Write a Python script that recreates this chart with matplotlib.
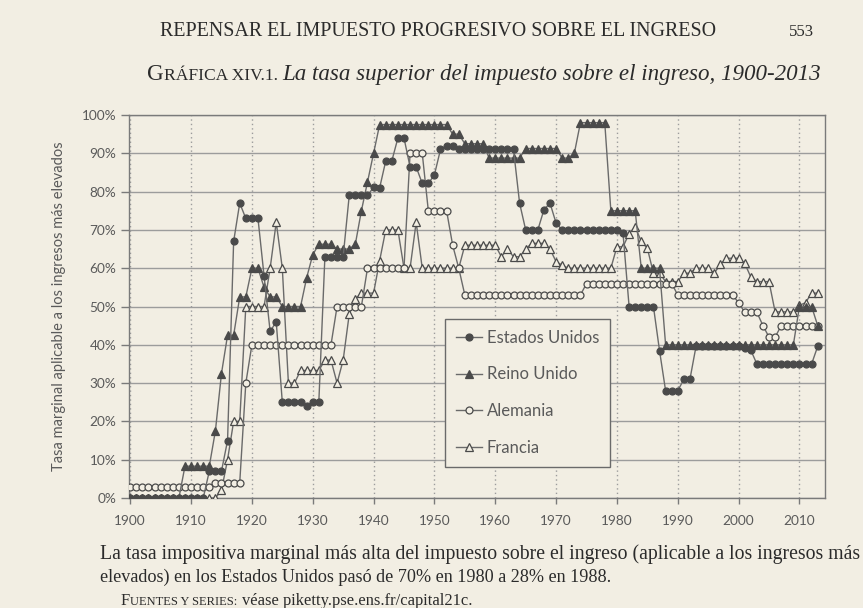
import matplotlib
matplotlib.use("Agg")
import matplotlib.pyplot as plt

# Top marginal income tax rate (%), one value per year 1900-2013
years = list(range(1900, 2014))

estados_unidos = [
    0, 0, 0, 0, 0, 0, 0, 0, 0, 0,
    0, 0, 0, 7, 7, 7, 15, 67, 77, 73,
    73, 73, 58, 43.5, 46, 25, 25, 25, 25, 24,
    25, 25, 63, 63, 63, 63, 79, 79, 79, 79,
    81.1, 81, 88, 88, 94, 94, 86.45, 86.45, 82.13, 82.13,
    84.36, 91, 92, 92, 91, 91, 91, 91, 91, 91,
    91, 91, 91, 91, 77, 70, 70, 70, 75.25, 77,
    71.75, 70, 70, 70, 70, 70, 70, 70, 70, 70,
    70, 69.13, 50, 50, 50, 50, 50, 38.5, 28, 28,
    28, 31, 31, 39.6, 39.6, 39.6, 39.6, 39.6, 39.6, 39.6,
    39.6, 39.1, 38.6, 35, 35, 35, 35, 35, 35, 35,
    35, 35, 35, 39.6,
]

reino_unido = [
    0, 0, 0, 0, 0, 0, 0, 0, 0, 8.3,
    8.3, 8.3, 8.3, 8.3, 17.5, 32.5, 42.5, 42.5, 52.5, 52.5,
    60, 60, 55, 52.5, 52.5, 50, 50, 50, 50, 57.5,
    63.5, 66.25, 66.25, 66.25, 65, 65, 65, 66.25, 75, 82.5,
    90, 97.5, 97.5, 97.5, 97.5, 97.5, 97.5, 97.5, 97.5, 97.5,
    97.5, 97.5, 97.5, 95, 95, 92.5, 92.5, 92.5, 92.5, 88.75,
    88.75, 88.75, 88.75, 88.75, 88.75, 91.25, 91.25, 91.25, 91.25, 91.25,
    91.25, 88.75, 88.75, 90, 98, 98, 98, 98, 98, 75,
    75, 75, 75, 75, 60, 60, 60, 60, 40, 40,
    40, 40, 40, 40, 40, 40, 40, 40, 40, 40,
    40, 40, 40, 40, 40, 40, 40, 40, 40, 40,
    50, 50, 50, 45,
]

alemania = [
    3, 3, 3, 3, 3, 3, 3, 3, 3, 3,
    3, 3, 3, 3, 4, 4, 4, 4, 4, 30,
    40, 40, 40, 40, 40, 40, 40, 40, 40, 40,
    40, 40, 40, 40, 50, 50, 50, 50, 50, 60,
    60, 60, 60, 60, 60, 60, 90, 90, 90, 75,
    75, 75, 75, 66, 60, 53, 53, 53, 53, 53,
    53, 53, 53, 53, 53, 53, 53, 53, 53, 53,
    53, 53, 53, 53, 53, 56, 56, 56, 56, 56,
    56, 56, 56, 56, 56, 56, 56, 56, 56, 56,
    53, 53, 53, 53, 53, 53, 53, 53, 53, 53,
    51, 48.5, 48.5, 48.5, 45, 42, 42, 45, 45, 45,
    45, 45, 45, 45,
]

francia = [
    0, 0, 0, 0, 0, 0, 0, 0, 0, 0,
    0, 0, 0, 0, 0, 2, 10, 20, 20, 50,
    50, 50, 50, 60, 72, 60, 30, 30, 33.3, 33.3,
    33.3, 33.3, 36, 36, 30, 36, 48, 52, 53.5, 53.5,
    53.5, 62, 70, 70, 70, 60, 60, 72, 60, 60,
    60, 60, 60, 60, 60, 66, 66, 66, 66, 66,
    66, 63, 65, 63, 63, 65, 66.5, 66.5, 66.5, 65,
    61.7, 60.8, 60, 60, 60, 60, 60, 60, 60, 60,
    65.6, 65.6, 69, 70.8, 67, 65.2, 58.7, 58.7, 56.5, 56.5,
    56.5, 58.7, 58.7, 60, 60, 60, 58.7, 61, 62.6, 62.6,
    62.6, 61.3, 57.7, 56.5, 56.5, 56.5, 48.6, 48.6, 48.6, 48.6,
    50.3, 51, 53.5, 53.5,
]

x_ticks = [1900, 1910, 1920, 1930, 1940, 1950, 1960, 1970, 1980, 1990, 2000, 2010]
y_ticks = [0, 10, 20, 30, 40, 50, 60, 70, 80, 90, 100]

PAPER = "#f2eee3"
INK = "#2b2b2b"
GRAY = "#5a5a5a"
LINE = "#6a6a6a"
GRID = "#9c9c9c"
SANS = ["Lato", "DejaVu Sans"]
SERIF = ["Liberation Serif", "DejaVu Serif"]

W, H = 863, 608
fig = plt.figure(figsize=(W / 100, H / 100), dpi=100, facecolor=PAPER)
ax = fig.add_axes([129 / W, 1 - 498 / H, 696 / W, 383 / H])
ax.set_facecolor(PAPER)

common = dict(color=LINE, lw=1.0, markeredgewidth=0.9, markeredgecolor="#4a4a4a")
ax.plot(years, francia, marker="^", ms=5.4, mfc=PAPER, label="Francia", zorder=3, **common)
ax.plot(years, alemania, marker="o", ms=5.0, mfc=PAPER, label="Alemania", zorder=4, **common)
ax.plot(years, reino_unido, marker="^", ms=5.4, mfc="#4a4a4a", label="Reino Unido", zorder=5, **common)
ax.plot(years, estados_unidos, marker="o", ms=5.0, mfc="#4a4a4a", label="Estados Unidos", zorder=6, **common)

ax.set_xlim(1899.8, 2014.2)
ax.set_ylim(0, 100)
ax.set_xticks(x_ticks)
ax.set_yticks(y_ticks)
ax.set_yticklabels([f"{v}%" for v in y_ticks])
ax.grid(axis="y", color=GRID, lw=1.0, zorder=1)
ax.grid(axis="x", color=GRID, lw=1.0, linestyle=(0, (1, 2.2)), zorder=1)
ax.set_axisbelow(True)
for sp in ax.spines.values():
    sp.set_color("#7a7a7a")
    sp.set_linewidth(1.0)
ax.tick_params(axis="x", length=4, width=1, color="#7a7a7a", pad=8,
               labelsize=9.8, labelcolor=GRAY)
ax.tick_params(axis="y", length=6, width=1, color="#7a7a7a", pad=3,
               labelsize=9.8, labelcolor=GRAY)
for lab in ax.get_xticklabels() + ax.get_yticklabels():
    lab.set_family(SANS)

ax.set_ylabel("Tasa marginal aplicable a los ingresos más elevados",
              family=SANS, fontsize=10.5, color=GRAY)
ax.yaxis.set_label_coords(-0.091, 0.5)

handles, labels = ax.get_legend_handles_labels()
order = [3, 2, 1, 0]
leg = ax.legend([handles[i] for i in order], [labels[i] for i in order],
                loc="lower left", bbox_to_anchor=(0.454, 0.081), borderaxespad=0,
                frameon=True, fancybox=False, framealpha=1, facecolor=PAPER,
                edgecolor="#6a6a6a", prop={"family": SANS, "size": 12},
                labelcolor=GRAY, handlelength=1.6, handletextpad=0.25,
                labelspacing=1.25, borderpad=0.65)
leg.get_frame().set_linewidth(1.0)
leg.set_zorder(10)

renderer = fig.canvas.get_renderer()


def parts_text(x0, x1, y, parts, base):
    """Lay out text pieces left to right, scaled so they span x0..x1."""
    for _ in range(4):
        total = 0
        for s, rel, style, gap in parts:
            t = fig.text(0, 0, s, fontsize=base * rel, fontstyle=style, family=SERIF)
            total += gap + t.get_window_extent(renderer).width
            t.remove()
        base *= (x1 - x0) / total
    xs = x0
    for s, rel, style, gap in parts:
        xs += gap
        t = fig.text(xs / W, 1 - y / H, s, fontsize=base * rel, fontstyle=style,
                     family=SERIF, color=INK, va="baseline", ha="left")
        xs += t.get_window_extent(renderer).width


parts_text(160, 716, 36, [("REPENSAR EL IMPUESTO PROGRESIVO SOBRE EL INGRESO", 1, "normal", 0)], 13)
parts_text(789, 814, 36, [("553", 1, "normal", 0)], 13)
parts_text(147, 820, 80, [("G", 1, "normal", 0), ("RÁFICA XIV.1.", 0.76, "normal", 0),
                          ("La tasa superior del impuesto sobre el ingreso, 1900-2013", 1, "italic", 5)], 14)
parts_text(100, 858, 559, [("La tasa impositiva marginal más alta del impuesto sobre el ingreso "
                            "(aplicable a los ingresos más", 1, "normal", 0)], 13)
parts_text(100, 612, 582, [("elevados) en los Estados Unidos pasó de 70% en 1980 a 28% en 1988.",
                            1, "normal", 0)], 13)
parts_text(121, 472, 605, [("F", 1, "normal", 0), ("UENTES Y SERIES:", 0.76, "normal", 0),
                           ("véase piketty.pse.ens.fr/capital21c.", 1, "normal", 4)], 12)

fig.savefig("out.png", dpi=100, facecolor=PAPER)
